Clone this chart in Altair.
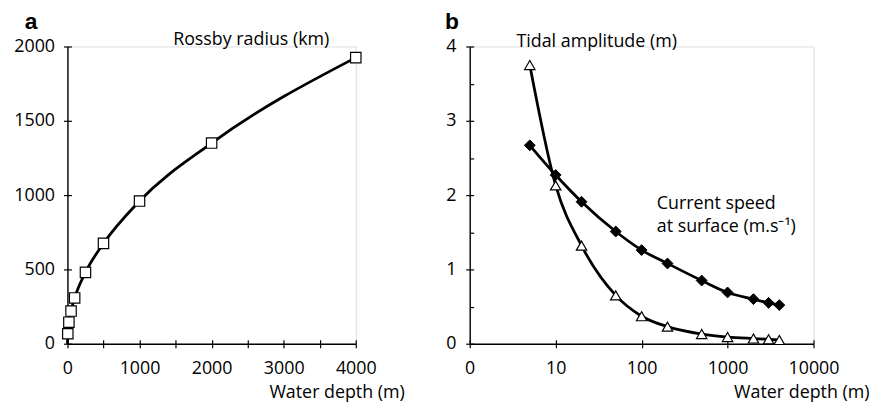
import altair as alt
import pandas as pd

# ---- Panel a data ----
depth_a = [5, 20, 50, 100, 250, 500, 1000, 2000, 4000]
rossby = [67, 145, 220, 308, 480, 675, 960, 1350, 1925]
line_a_depth = [0, 5, 20, 50, 100, 250, 500, 1000, 2000, 4000]
line_a_val = [0, 67, 145, 220, 308, 480, 675, 960, 1350, 1925]

# ---- Panel b data ----
depth_tide = [5, 10, 20, 50, 100, 200, 500, 1000, 2000, 3000, 4000]
tidal = [3.75, 2.13, 1.32, 0.65, 0.37, 0.23, 0.13, 0.09, 0.07, 0.06, 0.05]
depth_curr = [5, 10, 20, 50, 100, 200, 500, 1000, 2000, 3000, 4000]
current = [2.67, 2.27, 1.91, 1.51, 1.26, 1.08, 0.85, 0.69, 0.60, 0.55, 0.52]

# ---- tick values ----
a_x_ticks = [0, 500, 1000, 1500, 2000, 2500, 3000, 3500, 4000]
a_y_ticks = [0, 500, 1000, 1500, 2000]
b_x_ticks = [1, 10, 100, 1000, 10000]
b_y_major = [0, 1, 2, 3, 4]
b_y_all = [0, 0.5, 1, 1.5, 2, 2.5, 3, 3.5, 4]

FONT = "Open Sans"
LFS = 18   # tick label size
TFS = 18   # text size

df_a_pts = pd.DataFrame({"depth": depth_a, "val": rossby})
df_a_line = pd.DataFrame({"depth": line_a_depth, "val": line_a_val})
df_tide = pd.DataFrame({"depth": depth_tide, "val": tidal})
df_curr = pd.DataFrame({"depth": depth_curr, "val": current})

lab_a = pd.DataFrame({"depth": [2550], "val": [2013], "text": ["Rossby radius (km)"]})
lab_b1 = pd.DataFrame({"depth": [30], "val": [3.99], "text": ["Tidal amplitude (m)"]})
lab_b2 = pd.DataFrame({"depth": [150, 150], "val": [1.81, 1.50],
                       "text": ["Current speed", "at surface (m.s\u207b\u00b9)"]})
letter_a = pd.DataFrame({"text": ["a"]})
letter_b = pd.DataFrame({"text": ["b"]})

axis_common = dict(grid=False, domainColor="black", tickColor="black",
                   domainWidth=1.4, tickWidth=1.2, tickSize=4, labelFlush=False,
                   labelFont=FONT, labelFontSize=LFS, labelColor="black",
                   titleFont=FONT, titleFontSize=TFS, titleFontWeight="normal",
                   titleColor="black")

# inner half of the crossing ticks (axis shifted 4px into the plot)
def inner_axis(values, orient):
    return alt.Axis(values=values, orient=orient, offset=-4, tickSize=4,
                    tickWidth=1.2, tickColor="black", domain=False,
                    labels=False, title=None, grid=False)

# ---- Panel a ----
sc_ax = alt.Scale(domain=[0, 4000], nice=False, zero=True)
sc_ay = alt.Scale(domain=[0, 2000], nice=False)
xa = alt.X("depth:Q", scale=sc_ax,
           axis=alt.Axis(values=a_x_ticks, format="d", orient="bottom",
                         labelExpr="datum.value % 1000 == 0 ? datum.label : ''",
                         labelPadding=12,
                         title="Water depth (m)", titleX=340, titleY=54,
                         titleAlign="right", titleBaseline="alphabetic",
                         **axis_common))
ya = alt.Y("val:Q", scale=sc_ay,
           axis=alt.Axis(values=a_y_ticks, format="d", orient="left",
                         labelPadding=9, title=None, **axis_common))
xa_in = alt.X("depth:Q", scale=sc_ax, axis=inner_axis(a_x_ticks, "bottom"))
ya_in = alt.Y("val:Q", scale=sc_ay, axis=inner_axis(a_y_ticks, "left"))

line_a = alt.Chart(df_a_line).mark_line(interpolate="monotone", color="black",
                                        strokeWidth=2.8).encode(x=xa, y=ya)
pts_a = alt.Chart(df_a_pts).mark_point(shape="square", size=110, filled=True,
                                       fill="white", stroke="black",
                                       strokeWidth=1.2, opacity=1).encode(x=xa_in, y=ya_in)
txt_a = alt.Chart(lab_a).mark_text(font=FONT, fontSize=TFS, color="black",
                                   align="center", baseline="alphabetic").encode(
    x=alt.X("depth:Q", axis=None), y=alt.Y("val:Q", axis=None), text="text:N")
let_a = alt.Chart(letter_a).mark_text(font="Liberation Sans", fontSize=23,
                                      fontWeight="bold", color="black",
                                      align="left", baseline="alphabetic").encode(
    x=alt.value(-43), y=alt.value(-18), text="text:N")

panel_a = alt.layer(line_a, pts_a, txt_a, let_a).resolve_axis(
    x="independent", y="independent").properties(width=291, height=300)

# ---- Panel b ----
sc_bx = alt.Scale(type="log", domain=[1, 10000], nice=False)
sc_by = alt.Scale(domain=[0, 4], nice=False)
xb = alt.X("depth:Q", scale=sc_bx,
           axis=alt.Axis(values=b_x_ticks, orient="bottom",
                         labelExpr="datum.value == 1 ? '0' : format(datum.value, 'd')",
                         labelPadding=12,
                         title="Water depth (m)", titleX=403, titleY=54,
                         titleAlign="right", titleBaseline="alphabetic",
                         **axis_common))
yb = alt.Y("val:Q", scale=sc_by,
           axis=alt.Axis(values=b_y_major, format="d", orient="left",
                         labelPadding=10, title=None, **axis_common))
xb_in = alt.X("depth:Q", scale=sc_bx, axis=inner_axis(b_x_ticks, "bottom"))
yb_in = alt.Y("val:Q", scale=sc_by, axis=inner_axis(b_y_all, "left"))

line_t = alt.Chart(df_tide).mark_line(interpolate="monotone", color="black",
                                      strokeWidth=2.8).encode(x=xb, y=yb)
line_c = alt.Chart(df_curr).mark_line(interpolate="monotone", color="black",
                                      strokeWidth=2.8).encode(
    x=alt.X("depth:Q", scale=sc_bx, axis=None), y=alt.Y("val:Q", scale=sc_by, axis=None))
pts_t = alt.Chart(df_tide).mark_point(shape="triangle-up", size=110, filled=True,
                                      fill="white", stroke="black",
                                      strokeWidth=1.2, opacity=1).encode(x=xb_in, y=yb_in)
pts_c = alt.Chart(df_curr).mark_point(shape="diamond", size=120, filled=True,
                                      fill="black", stroke="black",
                                      strokeWidth=1, opacity=1).encode(
    x=alt.X("depth:Q", scale=sc_bx, axis=None), y=alt.Y("val:Q", scale=sc_by, axis=None))
txt_b1 = alt.Chart(lab_b1).mark_text(font=FONT, fontSize=TFS, color="black",
                                     align="center", baseline="alphabetic").encode(
    x=alt.X("depth:Q", axis=None), y=alt.Y("val:Q", axis=None), text="text:N")
txt_b2 = alt.Chart(lab_b2).mark_text(font=FONT, fontSize=TFS, color="black",
                                     align="left", baseline="alphabetic").encode(
    x=alt.X("depth:Q", axis=None), y=alt.Y("val:Q", axis=None), text="text:N")
let_b = alt.Chart(letter_b).mark_text(font="Liberation Sans", fontSize=23,
                                      fontWeight="bold", color="black",
                                      align="left", baseline="alphabetic").encode(
    x=alt.value(-25), y=alt.value(-18), text="text:N")

panel_b = alt.layer(line_t, line_c, pts_t, pts_c, txt_b1, txt_b2, let_b).resolve_axis(
    x="independent", y="independent").properties(width=347, height=300)

chart = alt.hconcat(panel_a, panel_b, spacing=115, bounds="flush").properties(
    padding={"left": 5, "top": 0, "right": 0, "bottom": 0}
).configure_view(stroke=None).configure(background="white")

chart.save("out.html", embed_options={"renderer": "svg", "actions": False})
